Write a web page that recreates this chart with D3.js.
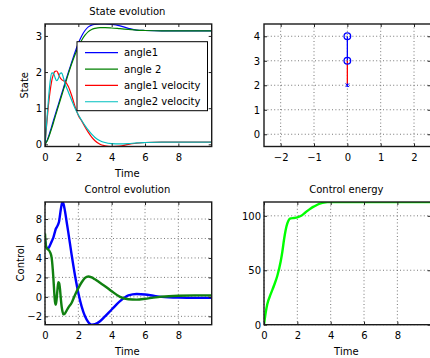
<!DOCTYPE html>
<html>
<head>
<meta charset="utf-8">
<script src="https://cdn.jsdelivr.net/npm/d3@7"></script>
<style>
  html, body { margin: 0; padding: 0; background: #fff; }
  svg { display: block; font-family: "DejaVu Sans", sans-serif; }
</style>
</head>
<body>
<svg id="fig" width="430" height="358"></svg>
<script>
// ---------- DATA ----------
// State evolution
const stateTime = [0, 0.1, 0.2, 0.3, 0.4, 0.5, 0.6, 0.7, 0.8, 0.9, 1.0, 1.1, 1.2, 1.4, 1.6, 1.8, 2.0, 2.2, 2.4, 2.6, 2.8, 3.0, 3.3, 3.6, 4.0, 4.5, 5.0, 5.5, 6.0, 7.0, 8.0, 9.0, 10.0];
const angle1 = [0, 0.08, 0.2, 0.34, 0.49, 0.65, 0.8, 0.95, 1.1, 1.25, 1.4, 1.55, 1.7, 1.99, 2.27, 2.55, 2.8, 3.0, 3.15, 3.25, 3.3, 3.32, 3.33, 3.33, 3.32, 3.28, 3.21, 3.16, 3.15, 3.14, 3.14, 3.14, 3.14];
const angle2 = [0, 0.07, 0.17, 0.3, 0.44, 0.59, 0.75, 0.9, 1.05, 1.2, 1.35, 1.5, 1.65, 1.95, 2.23, 2.48, 2.7, 2.88, 3.02, 3.12, 3.18, 3.21, 3.23, 3.23, 3.22, 3.2, 3.18, 3.16, 3.15, 3.14, 3.14, 3.14, 3.14];
const angle1Velocity = [0, 0.55, 1.05, 1.45, 1.75, 1.93, 2.02, 2.03, 1.95, 1.85, 1.79, 1.76, 1.74, 1.6, 1.35, 1.05, 0.8, 0.65, 0.48, 0.33, 0.2, 0.1, 0.0, -0.04, -0.06, -0.05, 0.0, 0.03, 0.05, 0.06, 0.06, 0.06, 0.06];
const angle2Velocity = [0, 0.6, 1.2, 1.7, 1.97, 1.98, 1.85, 1.76, 1.82, 1.96, 1.98, 1.85, 1.68, 1.45, 1.22, 1.0, 0.82, 0.66, 0.52, 0.39, 0.28, 0.19, 0.1, 0.05, 0.02, 0.01, 0.02, 0.04, 0.05, 0.06, 0.06, 0.06, 0.06];
const legendLabels = ["angle1", "angle 2", "angle1 velocity", "angle2 velocity"];

// Pendulum snapshot
const pendulumX = [0, 0, 0];
const pendulumY = [4, 3, 2];

// Control evolution
const controlTime = [0, 0.05, 0.1, 0.2, 0.3, 0.4, 0.5, 0.55, 0.6, 0.65, 0.7, 0.75, 0.8, 0.85, 0.9, 0.95, 1.0, 1.05, 1.1, 1.2, 1.3, 1.4, 1.6, 1.8, 2.0, 2.2, 2.4, 2.6, 2.8, 3.0, 3.3, 3.6, 4.0, 4.5, 5.0, 5.5, 6.0, 6.5, 7.0, 8.0, 9.0, 10.0];
const control1 = [5.8, 5.3, 5.05, 5.0, 5.3, 5.7, 6.1, 6.4, 6.7, 7.0, 7.15, 7.3, 7.5, 7.8, 8.4, 9.0, 9.5, 9.75, 9.6, 8.8, 7.7, 6.6, 4.3, 2.2, 0.4, -1.0, -2.0, -2.6, -2.85, -2.8, -2.5, -2.0, -1.3, -0.44, 0.15, 0.3, 0.25, 0.12, 0.0, -0.08, -0.1, -0.1];
const control2 = [6.5, 5.3, 5.0, 4.85, 4.6, 4.0, 2.0, 0.6, -0.5, -0.8, -0.2, 0.8, 1.5, 1.4, 0.8, -0.2, -1.0, -1.5, -1.8, -1.7, -1.4, -1.1, -0.6, 0.2, 0.9, 1.5, 1.95, 2.1, 2.0, 1.8, 1.45, 1.1, 0.58, 0.0, -0.25, -0.28, -0.2, -0.08, 0.02, 0.12, 0.15, 0.15];

// Control energy
const energyTime = [0, 0.1, 0.2, 0.4, 0.6, 0.8, 1.0, 1.1, 1.2, 1.3, 1.4, 1.5, 1.6, 1.8, 2.0, 2.2, 2.4, 2.6, 2.8, 3.0, 3.2, 3.4, 3.6, 3.8, 4.0, 6.0, 8.0, 10.0];
const energy = [0, 11, 19, 28, 36, 45, 58, 67, 78, 87, 93, 96.5, 97.6, 98, 98.5, 99.8, 102, 104.5, 106.8, 108.6, 110.2, 111.4, 112.2, 112.6, 112.7, 112.7, 112.7, 112.7];

// Tick labels
const timeTicks = [0, 2, 4, 6, 8];
const stateTicks = [0, 1, 2, 3];
const pendXTicks = [-2, -1, 0, 1, 2];
const pendYTicks = [0, 1, 2, 3, 4];
const controlTicks = [-2, 0, 2, 4, 6, 8];
const energyTicks = [0, 50, 100];

// ---------- DRAWING ----------
const svg = d3.select("#fig");
const defs = svg.append("defs");
const FONT = 10;
const fmt = d3.format("d");

function panel(id, x0, x1, y0, y1, xDom, yDom, xTicks, yTicks, opts) {
  const x = d3.scaleLinear().domain(xDom).range([x0, x1]);
  const y = d3.scaleLinear().domain(yDom).range([y1, y0]);
  const g = svg.append("g");
  defs.append("clipPath").attr("id", "clip-" + id)
    .append("rect").attr("x", x0).attr("y", y0).attr("width", x1 - x0).attr("height", y1 - y0);

  if (opts.grid) {
    const gg = g.append("g").attr("stroke", "#555").attr("stroke-width", 0.8)
      .attr("stroke-dasharray", "1,2.4");
    xTicks.forEach(v => gg.append("line").attr("x1", x(v)).attr("x2", x(v)).attr("y1", y0).attr("y2", y1));
    yTicks.forEach(v => gg.append("line").attr("y1", y(v)).attr("y2", y(v)).attr("x1", x0).attr("x2", x1));
  }
  const plot = g.append("g").attr("clip-path", "url(#clip-" + id + ")");

  const styleAxis = (a) => {
    a.select(".domain").remove();
    a.selectAll("line").attr("stroke", "#222").attr("stroke-width", 1);
    a.selectAll("text").attr("font-size", FONT).attr("fill", "#000")
      .attr("font-family", "DejaVu Sans, sans-serif");
  };
  const ax = {
    bottom: g.append("g").attr("transform", `translate(0,${y1})`)
      .call(d3.axisBottom(x).tickValues(xTicks).tickFormat(fmt).tickSizeInner(-3).tickSizeOuter(0).tickPadding(7.5)),
    top: g.append("g").attr("transform", `translate(0,${y0})`)
      .call(d3.axisTop(x).tickValues(xTicks).tickSizeInner(-3).tickSizeOuter(0).tickFormat("")),
    left: g.append("g").attr("transform", `translate(${x0},0)`)
      .call(d3.axisLeft(y).tickValues(yTicks).tickFormat(fmt).tickSizeInner(-3).tickSizeOuter(0).tickPadding(opts.yPad || 3)),
    right: g.append("g").attr("transform", `translate(${x1},0)`)
      .call(d3.axisRight(y).tickValues(yTicks).tickSizeInner(-3).tickSizeOuter(0).tickFormat(""))
  };
  Object.values(ax).forEach(styleAxis);
  ax.left.selectAll("text").attr("dy", "0.36em");

  g.append("rect").attr("x", x0).attr("y", y0).attr("width", x1 - x0).attr("height", y1 - y0)
    .attr("fill", "none").attr("stroke", "#1a1a1a").attr("stroke-width", 1.4);

  if (opts.title) {
    g.append("text").attr("x", (x0 + x1) / 2 - 1).attr("y", y0 - 9).attr("text-anchor", "middle")
      .attr("font-size", FONT).text(opts.title);
  }
  if (opts.xlabel) {
    g.append("text").attr("x", (x0 + x1) / 2 - 1).attr("y", y1 + 30).attr("text-anchor", "middle")
      .attr("font-size", FONT).text(opts.xlabel);
  }
  if (opts.ylabel) {
    g.append("text").attr("transform", `translate(${opts.ylabelX},${(y0 + y1) / 2}) rotate(-90)`)
      .attr("text-anchor", "middle").attr("font-size", FONT).text(opts.ylabel);
  }
  return { x, y, g, plot };
}

function drawLine(p, xs, ys, color, width) {
  const line = d3.line().x((d, i) => p.x(xs[i])).y(d => p.y(d)).curve(d3.curveMonotoneX);
  p.plot.append("path").datum(ys).attr("d", line).attr("fill", "none")
    .attr("stroke", color).attr("stroke-width", width).attr("stroke-linejoin", "round");
}

// Panel 1: State evolution
const p1 = panel("state", 45, 211.7, 24, 146.5, [0, 10], [-0.06, 3.33], timeTicks, stateTicks,
  { title: "State evolution", xlabel: "Time", ylabel: "State", ylabelX: 27.5 });
const stateSeries = [angle1, angle2, angle1Velocity, angle2Velocity];
const stateColors = ["#0000ff", "#008000", "#ff0000", "#00bfbf"];
stateSeries.forEach((s, i) => drawLine(p1, stateTime, s, stateColors[i], 1.2));

// legend
const lg = p1.g.append("g");
lg.append("rect").attr("x", 77).attr("y", 41.7).attr("width", 130.5).attr("height", 69)
  .attr("fill", "#fff").attr("stroke", "#000").attr("stroke-width", 1);
legendLabels.forEach((lab, i) => {
  const yy = 52.7 + i * 16.35;
  lg.append("line").attr("x1", 85).attr("x2", 118).attr("y1", yy).attr("y2", yy)
    .attr("stroke", stateColors[i]).attr("stroke-width", 1.2);
  lg.append("text").attr("x", 124).attr("y", yy + 3.6).attr("font-size", FONT).text(lab);
});

// Panel 2: pendulum
const p2 = panel("pend", 264, 430.7, 24, 146.5, [-2.5, 2.5], [-0.5, 4.5], pendXTicks, pendYTicks,
  { grid: true, yPad: 4 });
p2.plot.append("line").attr("x1", p2.x(pendulumX[0])).attr("y1", p2.y(pendulumY[0]))
  .attr("x2", p2.x(pendulumX[1])).attr("y2", p2.y(pendulumY[1]))
  .attr("stroke", "#0000ff").attr("stroke-width", 1.3);
p2.plot.append("line").attr("x1", p2.x(pendulumX[1])).attr("y1", p2.y(pendulumY[1]))
  .attr("x2", p2.x(pendulumX[2])).attr("y2", p2.y(pendulumY[2]))
  .attr("stroke", "#ff0000").attr("stroke-width", 1.3);
[0, 1].forEach(i => p2.plot.append("circle").attr("cx", p2.x(pendulumX[i])).attr("cy", p2.y(pendulumY[i]))
  .attr("r", 3.3).attr("fill", "none").attr("stroke", "#0000ff").attr("stroke-width", 1.3));
{
  const cx = p2.x(pendulumX[2]), cy = p2.y(pendulumY[2]), s = 1.8;
  p2.plot.append("path")
    .attr("d", `M${cx - s},${cy - s}L${cx + s},${cy + s}M${cx - s},${cy + s}L${cx + s},${cy - s}M${cx},${cy - s}L${cx},${cy + s}`)
    .attr("stroke", "#0000ff").attr("stroke-width", 1);
}

// Panel 3: Control evolution
const p3 = panel("ctrl", 45, 211.7, 202, 324.7, [0, 10], [-2.86, 9.75], timeTicks, controlTicks,
  { grid: true, title: "Control evolution", xlabel: "Time", ylabel: "Control", ylabelX: 23.5 });
drawLine(p3, controlTime, control1, "#0000ff", 2.4);
drawLine(p3, controlTime, control2, "#108010", 2.4);

// Panel 4: Control energy
const p4 = panel("energy", 264, 430.7, 202, 324.7, [0, 10], [0, 112.7], timeTicks, energyTicks,
  { grid: true, title: "Control energy", xlabel: "Time", yPad: 3 });
drawLine(p4, energyTime, energy, "#00ff00", 2.4);
</script>
</body>
</html>
